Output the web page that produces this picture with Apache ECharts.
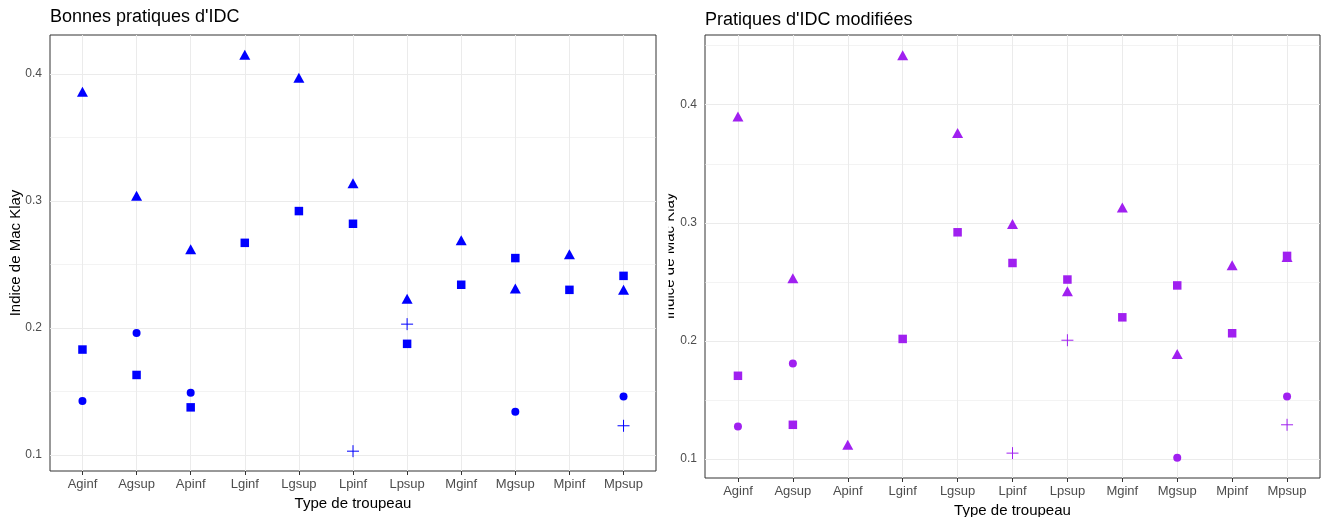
<!DOCTYPE html>
<html><head><meta charset="utf-8">
<script src="https://cdn.jsdelivr.net/npm/echarts@6/dist/echarts.min.js"></script>
<style>html,body{margin:0;padding:0;background:#fff}#c{width:1323px;height:517px}</style>
</head><body><div id="c"></div>
<script>
const categories = ['Aginf','Agsup','Apinf','Lginf','Lgsup','Lpinf','Lpsup','Mginf','Mgsup','Mpinf','Mpsup'];
// Bonnes pratiques d'IDC
const leftTriangle = [0.386,0.304,0.262,0.415,0.397,0.314,0.223,0.269,0.231,0.258,0.230];
const leftSquare   = [0.183,0.163,0.1375,0.267,0.292,0.282,0.1875,0.234,0.255,0.230,0.241];
const leftCircle   = [0.1425,0.196,0.149,null,null,null,null,null,0.134,null,0.146];
const leftPlus     = [null,null,null,null,null,0.103,0.203,null,null,null,0.123];
// Pratiques d'IDC modifiées
const rightTriangle = [0.390,0.253,0.112,0.442,0.376,0.299,0.242,0.313,0.189,0.264,0.271];
const rightSquare   = [0.1705,0.129,null,0.2017,0.292,0.266,0.252,0.220,0.247,0.2065,0.272];
const rightCircle   = [0.1275,0.181,null,null,null,null,null,null,0.101,null,0.153];
const rightPlus     = [null,null,null,null,null,0.105,0.2006,null,null,null,0.129];
const yMajorTicks = [0.1,0.2,0.3,0.4];
const yMinorLeft  = [0.15,0.25,0.35];
const yMinorRight = [0.15,0.25,0.35,0.45];

const FONT = "'Liberation Sans', Arial, sans-serif";
const BLUE = '#0000FF', PURPLE = '#A020F0';
const PLUS = 'path://M0,6L12,6M6,0L6,12';

function pts(arr){ const o=[]; arr.forEach((v,i)=>{ if(v!==null) o.push([i,v]); }); return o; }
function range(arrs){
  const all=[].concat(...arrs).filter(v=>v!==null);
  const mn=Math.min(...all), mx=Math.max(...all), e=(mx-mn)*0.05;
  return [mn-e, mx+e];
}
const lr = range([leftTriangle,leftSquare,leftCircle,leftPlus]);
const rr = range([rightTriangle,rightSquare,rightCircle,rightPlus]);

function xAxis(gi){
  return {
    type:'value', gridIndex:gi, min:-0.6, max:categories.length-0.4,
    splitLine:{show:false}, axisLine:{show:false},
    axisTick:{show:true, customValues:categories.map((c,i)=>i), length:4, lineStyle:{color:'#333'}},
    axisLabel:{customValues:categories.map((c,i)=>i), formatter:v=>categories[Math.round(v)], color:'#4D4D4D', fontSize:13, fontFamily:FONT, margin:7},
    name:'Type de troupeau', nameLocation:'middle', nameGap:24,
    nameTextStyle:{color:'#000', fontSize:15, fontFamily:FONT}
  };
}
function yAxis(gi, r){
  return {
    type:'value', gridIndex:gi, min:r[0], max:r[1],
    splitLine:{show:false}, axisLine:{show:false},
    axisTick:{show:true, customValues:yMajorTicks, length:4, lineStyle:{color:'#333'}},
    axisLabel:{customValues:yMajorTicks, formatter:v=>v.toFixed(1), color:'#4D4D4D', fontSize:12, fontFamily:FONT, margin:8}
  };
}
function gridSeries(gi, minor){
  const data = categories.map((c,i)=>({xAxis:i, lineStyle:{width:1}}))
    .concat(yMajorTicks.map(v=>({yAxis:v, lineStyle:{width:1}})))
    .concat(minor.map(v=>({yAxis:v, lineStyle:{width:0.6}})));
  return {type:'scatter', xAxisIndex:gi, yAxisIndex:gi, data:[], z:1, silent:true,
    markLine:{silent:true, z:1, symbol:['none','none'], label:{show:false}, animation:false,
      lineStyle:{color:'#EBEBEB', type:'solid'}, emphasis:{disabled:true}, data:data}};
}
function pointSeries(gi, arr, symbol, size, color, plus){
  return {type:'scatter', xAxisIndex:gi, yAxisIndex:gi, data:pts(arr), symbol:symbol, symbolSize:size, z:5,
    itemStyle: plus ? {color:'rgba(0,0,0,0)', borderColor:color, borderWidth:1, opacity:1} : {color:color, opacity:1},
    emphasis:{disabled:true}, animation:false};
}

const chart = echarts.init(document.getElementById('c'), null, {renderer:'canvas'});
chart.setOption({
  animation:false,
  backgroundColor:'#fff',
  title:[
    {text:"Bonnes pratiques d'IDC", left:50, top:8, padding:0, textStyle:{fontSize:18, fontWeight:'normal', color:'#000', fontFamily:FONT}},
    {text:"Pratiques d'IDC modifiées", left:705, top:11, padding:0, textStyle:{fontSize:18, fontWeight:'normal', color:'#000', fontFamily:FONT}}
  ],
  grid:[
    {left:50, top:35, width:606, height:436, show:true, borderColor:'#333', borderWidth:1, backgroundColor:'#fff', outerBoundsMode:'none', containLabel:false},
    {left:705, top:35, width:615, height:443, show:true, borderColor:'#333', borderWidth:1, backgroundColor:'#fff', outerBoundsMode:'none', containLabel:false}
  ],
  xAxis:[xAxis(0), xAxis(1)],
  yAxis:[yAxis(0, lr), yAxis(1, rr)],
  series:[
    gridSeries(0, yMinorLeft),
    pointSeries(0, leftTriangle, 'triangle', [11,10], BLUE),
    pointSeries(0, leftSquare, 'rect', 8.5, BLUE),
    pointSeries(0, leftCircle, 'circle', 8, BLUE),
    pointSeries(0, leftPlus, PLUS, 12, BLUE, true),
    gridSeries(1, yMinorRight),
    pointSeries(1, rightTriangle, 'triangle', [11,10], PURPLE),
    pointSeries(1, rightSquare, 'rect', 8.5, PURPLE),
    pointSeries(1, rightCircle, 'circle', 8, PURPLE),
    pointSeries(1, rightPlus, PLUS, 12, PURPLE, true)
  ],
  graphic:[
    {type:'text', x:16, y:253, rotation:Math.PI/2, z:100,
      style:{text:'Indice de Mac Klay', font:'15px '+FONT, fill:'#000', align:'center', verticalAlign:'middle'}},
    {type:'text', x:670, y:256, rotation:Math.PI/2, z:100,
      style:{text:'Indice de Mac Klay', font:'15px '+FONT, fill:'#000', align:'center', verticalAlign:'middle'}},
    {type:'rect', z:101, shape:{x:657.5, y:150, width:11, height:220}, style:{fill:'#fff'}}
  ]
});
</script>
</body></html>
